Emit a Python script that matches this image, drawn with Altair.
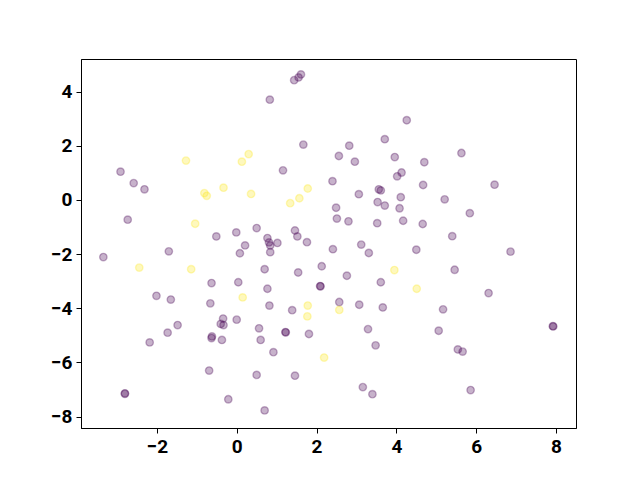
import altair as alt
import pandas as pd

# purple (class 0) points
x0 = [-2.91, -2.58, -2.31, 1.44, 1.55, 1.61, 0.83, 4.26, 1.67, 2.82,
      3.71, 2.56, 2.96, 3.96, 1.16, 4.13, 4.02, 2.40, 3.56, 3.61,
      5.63, 4.70, 4.67, 6.46, -2.73, -0.51, -0.01, 0.21, 0.08, -3.34,
      -1.70, -0.63, 0.04, -2.01, -1.65, -0.66, 3.06, 4.11, 3.53, 3.71,
      4.08, 2.49, 2.51, 2.80, 3.52, 4.17, 0.50, 1.46, 1.52, 1.76,
      0.77, 0.81, 0.84, 1.02, 0.84, 2.41, 3.12, 3.31, 0.70, 1.54,
      2.13, 2.76, 2.09, 2.10, 3.61, 0.77, 0.82, 1.39, 2.57, 3.07,
      3.66, 5.21, 5.84, 4.66, 5.40, 4.50, 6.86, 5.46, 6.31, 5.17,
      -1.48, -1.73, -2.18, -0.34, 0.00, -0.40, -0.33, -0.62, -0.63, -0.37,
      -0.69, -2.80, -2.80, -0.21, 0.56, 0.60, 1.22, 1.23, 1.81, 3.29,
      3.48, 0.92, 0.50, 1.46, 3.16, 3.40, 0.70, 5.06, 7.92, 7.93,
      5.54, 5.66, 5.86]
y0 = [1.04, 0.62, 0.39, 4.42, 4.52, 4.63, 3.70, 2.94, 2.04, 2.00,
      2.24, 1.62, 1.41, 1.58, 1.09, 1.01, 0.87, 0.69, 0.39, 0.35,
      1.73, 1.39, 0.55, 0.56, -0.73, -1.35, -1.20, -1.68, -1.97, -2.11,
      -1.90, -3.07, -3.04, -3.54, -3.68, -3.82, 0.21, 0.10, -0.08, -0.21,
      -0.31, -0.29, -0.69, -0.79, -0.86, -0.77, -1.04, -1.13, -1.35, -1.56,
      -1.41, -1.57, -1.68, -1.59, -1.93, -1.82, -1.65, -1.96, -2.56, -2.68,
      -2.45, -2.80, -3.18, -3.19, -3.04, -3.28, -3.90, -4.07, -3.77, -3.87,
      -3.97, 0.02, -0.49, -0.89, -1.34, -1.84, -1.91, -2.58, -3.44, -4.04,
      -4.62, -4.90, -5.26, -4.38, -4.42, -4.58, -4.62, -5.04, -5.10, -5.17,
      -6.30, -7.14, -7.16, -7.36, -4.74, -5.17, -4.88, -4.89, -4.95, -4.77,
      -5.37, -5.62, -6.46, -6.49, -6.91, -7.17, -7.77, -4.83, -4.66, -4.67,
      -5.52, -5.60, -7.02]

# yellow (class 1) points
x1 = [-1.27, 0.13, 0.30, -0.33, -0.81, -0.75, 0.36, -1.04, -2.44, -1.14,
      0.15, 1.78, 1.57, 1.34, 3.95, 1.78, 2.57, 1.77, 2.19, 4.51]
y1 = [1.45, 1.41, 1.69, 0.45, 0.25, 0.15, 0.22, -0.88, -2.50, -2.56,
      -3.60, 0.42, 0.06, -0.12, -2.59, -3.90, -4.06, -4.30, -5.82, -3.28]

df = pd.DataFrame({
    "x": x0 + x1,
    "y": y0 + y1,
    "c": ["0"] * len(x0) + ["1"] * len(x1),
})

color_scale = alt.Scale(domain=["0", "1"], range=["#440154", "#fde725"])

chart = alt.Chart(df).mark_circle(
    size=55, fillOpacity=0.3, strokeOpacity=0.3, strokeWidth=1.4
).encode(
    x=alt.X("x:Q", scale=alt.Scale(domain=[-3.9, 8.5], nice=False, zero=False),
            axis=alt.Axis(values=[-2, 0, 2, 4, 6, 8], title=None, grid=False)),
    y=alt.Y("y:Q", scale=alt.Scale(domain=[-8.42, 5.2], nice=False, zero=False),
            axis=alt.Axis(values=[-8, -6, -4, -2, 0, 2, 4], title=None, grid=False)),
    fill=alt.Fill("c:N", scale=color_scale, legend=None),
    stroke=alt.Stroke("c:N", scale=color_scale, legend=None),
).properties(
    width=495, height=369,
    autosize=alt.AutoSizeParams(type="none"),
    padding={"left": 73, "top": 51, "right": 56, "bottom": 45},
).configure_view(
    stroke="black", strokeWidth=1
).configure_axis(
    domainColor="black", domainWidth=1,
    tickColor="black", tickSize=5, tickWidth=1,
    labelColor="black", labelFont="Roboto", labelFontWeight="bold",
    labelFontSize=19, labelPadding=4,
)

chart.save("out.html", embed_options={"renderer": "svg", "actions": False})
